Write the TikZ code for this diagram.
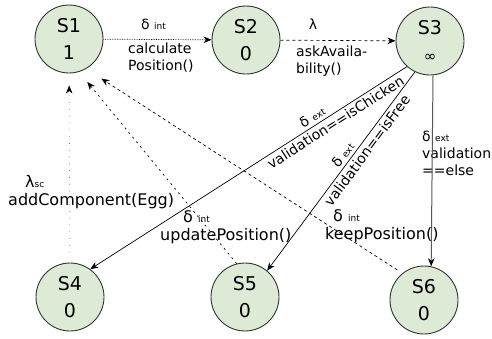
\documentclass[tikz,border=0pt]{standalone}
\usepackage{fontspec}
\setmainfont{DejaVu Sans}
\usetikzlibrary{arrows.meta}
\definecolor{stfill}{HTML}{DCEAD6}
\definecolor{stline}{HTML}{333333}
\newcommand{\lsub}[1]{{\fontsize{9}{9}\selectfont #1}}
\tikzset{state/.style={circle, draw=stline, fill=stfill, line width=0.9pt, minimum size=68pt, inner sep=0pt, align=center, font=\fontsize{19}{27}\selectfont}}
\tikzset{lab/.style={inner sep=0pt, align=left, font=\fontsize{14}{17}\selectfont}}
\tikzset{biglab/.style={lab, font=\fontsize{16}{18}\selectfont}}

\begin{document}
\begin{tikzpicture}[x=1pt,y=-1pt,>={Stealth[length=8pt,width=6.5pt,inset=2.5pt,color=black]}]
    \useasboundingbox (0,0) rectangle (492,338);
    \foreach \x/\y/\lab/\tx in {
      69/39/s1/S1\\1,
      246/40/s2/S2\\0,
      430/41/s3/S3\\{\fontsize{15}{15}\selectfont ∞},
      70/297/s4/S4\\0,
      245/297/s5/S5\\0,
      424/300/s6/S6\\0%
    } {
      \node[state] (\lab) at (\x, \y) {\tx};
    }
    % labels
    \node[lab, anchor=west] (l12a) at (141,24) {δ \lsub{int}};
    \node[lab, anchor=west] (l12b) at (128,57.5) {calculate\\Position()};
    \node[lab] (l23a) at (313,24) {λ};
    \node[lab, anchor=west] (l23b) at (296,61) {askAvaila-\\bility()};
    \node[lab, anchor=west] (l36) at (422,153.5) {δ \lsub{ext}\\validation\\==else};
    \node[biglab, anchor=west] (l41) at (8,192.5) {\hspace*{17pt}λ\lsub{sc}\\addComponent(Egg)};
    \node[biglab, anchor=west] (l51) at (160,227.5) {\hspace*{23pt}δ \lsub{int}\\updatePosition()};
    \node[biglab, anchor=west] (l61) at (325,226.5) {\hspace*{8pt}δ \lsub{int}\\keepPosition()};
    \begin{scope}[line width=0.7pt]
      \draw[densely dotted,->] (s1) -- (s2);
      \draw[dash pattern=on 3pt off 3pt,->] (s2) -- (s3);
      \draw[->] (s3.228) -- (s4.54) node[lab, sloped, pos=0.24] {\hspace*{3.5em}δ \lsub{ext}\\validation==isChicken};
      \draw[->] (s3.244) -- (s5.50) node[lab, sloped, pos=0.37] {\hspace*{2.5em}δ \lsub{ext}\\validation==isFree};
      \draw[->, gray!70!black, line width=1pt] (s3.275) -- (s6.78);
      \draw[->, gray, dash pattern=on 0.8pt off 6pt, shorten <=10pt, shorten >=12pt] (s4) -- (s1);
      \draw[->, dash pattern=on 2pt off 4pt, shorten >=13pt] (s5.104) -- (s1.287);
      \draw[->, dash pattern=on 3pt off 3pt, shorten <=6pt, shorten >=18pt] (s6.129) -- (s1.300);
    \end{scope}
\end{tikzpicture}
\end{document}
